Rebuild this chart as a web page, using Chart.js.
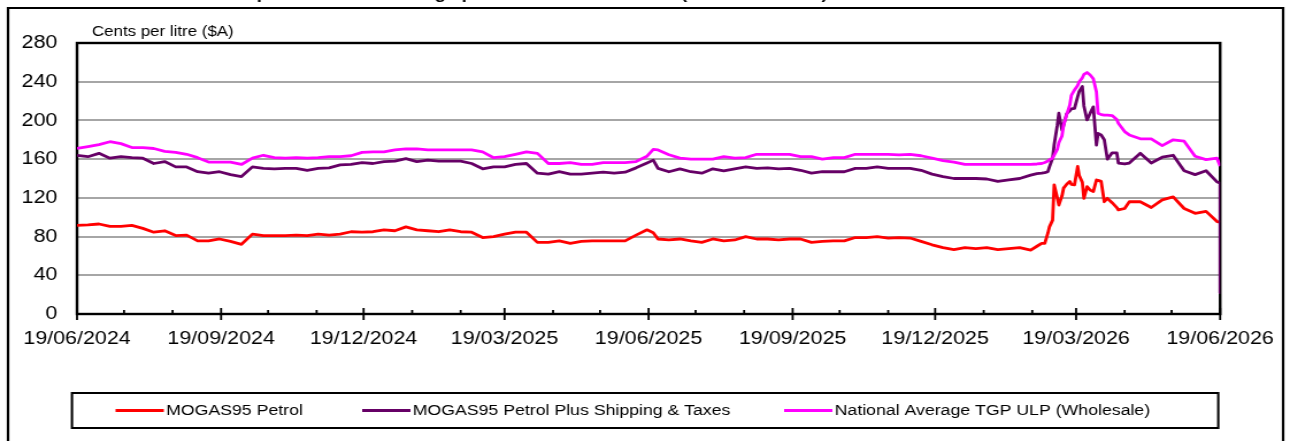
<!DOCTYPE html>
<html>
<head>
<meta charset="utf-8">
<script src="https://cdn.jsdelivr.net/npm/chart.js@4"></script>
<style>
  html, body { margin: 0; padding: 0; background: #fff; overflow: hidden; }
  /* the reference is drawn slightly wide, so the chart is stretched horizontally */
  #wrap { position: absolute; left: 0; top: 0; width: 1122px; height: 441px;
          transform: scaleX(1.14973); transform-origin: 0 0; }
</style>
</head>
<body>
<div id="wrap"><canvas id="myChart"></canvas></div>
<script>
const titleText = "Comparison of the average petrol versus MOGAS95 (AUD cents/litre)";
const unitText = "Cents per litre ($A)";

// days since 19/06/2024
const days = [0,7,14,21,28,35,42,49,56,63,70,77,84,91,98,105,112,119,126,133,140,147,154,161,168,175,182,
  189,196,203,210,217,224,231,238,245,252,259,266,273,280,287,294,301,308,315,322,329,336,343,350,357,364,
  368,
  371,378,385,392,399,406,413,420,427,434,441,448,455,462,469,476,483,490,497,504,511,518,525,532,539,546,
  553,560,567,574,581,588,595,
  602,609,613,616,618,620,621,623,624,626,627,629,630,632,634,635,637,639,640,642,643,645,647,649,651,652,654,656,658,661,664,665,669,672,
  679,686,693,700,707,714,721,728,730,730];

const mogas = [91.5,92,93,90.5,90.5,91.5,88.5,84.5,86,81,81.5,75.5,75.5,77.5,75,72,82.5,81,81,81,81.5,81,82.5,81.5,82.5,85,84.5,
  85,87,86,90,87,86,85,87,85,84.5,79,80,82.5,84.5,84.5,74,74,75.5,73,75,75.5,75.5,75.5,75.5,81.5,87,
  84,
  77.5,76.5,77.5,75.5,74,77.5,75.5,76.5,80,77.5,77.5,76.5,77.5,77.5,74,75,75.5,75.5,79,79,80,78.5,79,78.5,75,71.5,
  68.5,66.5,68.5,67.5,68.5,66.5,67.5,
  68.5,66,70,73,73,83.5,90,97,133.5,120,112.5,122,130,134,137,134,133.5,152.5,143,136,119.5,131.5,128,126.5,138.5,138,137,116,119.5,115,110,107.5,109,116,
  116,110,118,121,109,104,106,95.5,95,95];

const mogasPlus = [164,162.5,166,161,162.5,161.5,161,155.5,157.5,152,152,147,145.5,147,144,142,152,150.5,150,150.5,150.5,148.5,150.5,151,154,154.5,156.5,
  155.5,157.5,158,160.5,157.5,159,158,158,158,155.5,150,152,152,154.5,155.5,145.5,144.5,147,144.5,144.5,145.5,146.5,145.5,146.5,151,156,
  159,
  150.5,147,150,147,145.5,150,148,150,152,150.5,151,150,150.5,148.5,145.5,147,147,147,150.5,150.5,152,150.5,150.5,150.5,148.5,144.5,
  142,140,140,140,139.5,137,138.5,
  140,143.5,145,145.5,146,147,152,161,175,195,207.5,190,195,207,210,212,212.5,224.5,230,235,215,200.5,207.5,214,174.5,186.5,185,180,160,166.5,166.5,156,155,156,
  166,156,162,164,148,144,148,136.5,135,22];

const tgp = [171,173,175,178,176,172,172,171,168,167,165,161.5,157,157,157,154.5,161,164,161.5,161,161.5,161,161.5,162.5,162.5,163.5,167,
  167.5,167.5,169.5,170.5,170.5,169.5,169.5,169.5,169.5,169.5,167.5,161.5,162.5,165,167.5,166,155.5,155.5,156.5,154.5,154.5,156.5,156.5,156.5,157.5,163,
  170,
  169.5,164.5,161,160,160,160,162.5,161,161.5,165,165,165,165,162.5,162.5,160,161.5,161.5,165,165,165,165,164.5,165,163.5,161,
  158.5,157,154.5,154.5,154.5,154.5,154.5,
  154.5,154.5,155,155.5,156.5,158,159.5,161,164,170,177,184,195,206,216,226,231.5,236,240,244,247.5,249.5,247,243,229.5,207.5,206,205.5,205.5,205,201,197,188.5,185,
  181,181,174,180,178.5,163,159.5,161,153,153];

const quarterDays = [0,92,183,273,365,457,548,638,730];
const quarterLabels = ["19/06/2024","19/09/2024","19/12/2024","19/03/2025","19/06/2025","19/09/2025","19/12/2025","19/03/2026","19/06/2026"];
const monthDays = [30,61,122,153,214,245,304,334,395,426,487,518,579,610,669,699];

const fam = '"Liberation Sans", Arial, sans-serif';
const toPts = vals => days.map((d, i) => ({ x: d, y: vals[i] }));

// frame, title, ticks, plot border and the boxed legend
const extras = {
  id: "extras",
  beforeDraw(chart) {
    const ctx = chart.ctx;
    ctx.save();
    ctx.fillStyle = "#fff";
    ctx.fillRect(0, 0, chart.width, chart.height);
    ctx.strokeStyle = "#000";
    ctx.lineWidth = 2.2;
    ctx.beginPath();
    ctx.moveTo(7, chart.height + 5);
    ctx.lineTo(7, 8);
    ctx.lineTo(1116, 8);
    ctx.lineTo(1116, chart.height + 5);
    ctx.stroke();
    ctx.fillStyle = "#000";
    ctx.textBaseline = "alphabetic";
    // title sits above the top edge, only its descenders show
    ctx.font = "bold 16.3px " + fam;
    ctx.fillText(titleText, 187, -1);
    ctx.font = "14.7px " + fam;
    ctx.fillText(unitText, 80, 36);
    ctx.restore();
  },
  beforeDatasetsDraw(chart) {
    const ctx = chart.ctx, a = chart.chartArea, xs = chart.scales.x;
    ctx.save();
    ctx.strokeStyle = "#000";
    ctx.lineWidth = 2.4;
    ctx.strokeRect(a.left, a.top, a.right - a.left, a.bottom - a.top);
    ctx.lineWidth = 1.8;
    ctx.beginPath();
    quarterDays.forEach(d => {
      const px = xs.getPixelForValue(d);
      ctx.moveTo(px, a.bottom - 6);
      ctx.lineTo(px, a.bottom + 6);
    });
    monthDays.forEach(d => {
      const px = xs.getPixelForValue(d);
      ctx.moveTo(px, a.bottom - 4);
      ctx.lineTo(px, a.bottom);
    });
    ctx.stroke();
    ctx.restore();
  },
  afterDraw(chart) {
    const ctx = chart.ctx;
    const legendX = [100.5, 315, 682];
    ctx.save();
    ctx.strokeStyle = "#000";
    ctx.lineWidth = 2;
    ctx.strokeRect(62.6, 393, 997, 35);
    ctx.font = "15.4px " + fam;
    ctx.textBaseline = "middle";
    chart.data.datasets.forEach((ds, i) => {
      ctx.strokeStyle = ds.borderColor;
      ctx.lineWidth = 3;
      ctx.beginPath();
      ctx.moveTo(legendX[i], 410.5);
      ctx.lineTo(legendX[i] + 42, 410.5);
      ctx.stroke();
      ctx.fillStyle = "#000";
      ctx.fillText(ds.label, legendX[i] + 44, 411);
    });
    ctx.restore();
  }
};

new Chart(document.getElementById("myChart"), {
  type: "line",
  data: {
    datasets: [
      { label: "MOGAS95 Petrol", data: toPts(mogas), borderColor: "#ff0000", order: 3 },
      { label: "MOGAS95 Petrol Plus Shipping & Taxes", data: toPts(mogasPlus), borderColor: "#660066", order: 2 },
      { label: "National Average TGP ULP (Wholesale)", data: toPts(tgp), borderColor: "#ff00ff", order: 1 }
    ]
  },
  options: {
    responsive: true,
    maintainAspectRatio: false,
    animation: false,
    datasets: { line: { borderWidth: 2.8, pointRadius: 0, tension: 0, borderJoinStyle: "round" } },
    layout: { padding: { left: 0, right: 58.3, top: 43, bottom: 87 } },
    plugins: { legend: { display: false }, tooltip: { enabled: false } },
    scales: {
      x: {
        type: "linear", min: 0, max: 730,
        afterBuildTicks: s => { s.ticks = quarterDays.map(v => ({ value: v })); },
        afterFit: s => { s.height = 40; },
        grid: { display: false, drawTicks: false },
        border: { display: false },
        ticks: {
          autoSkip: false, maxRotation: 0, minRotation: 0, padding: 14, color: "#000",
          font: { family: fam, size: 18.7 },
          callback: (v, i) => quarterLabels[i]
        }
      },
      y: {
        min: 0, max: 280,
        afterFit: s => { s.width = 67; },
        grid: { color: "#a6a6a6", lineWidth: 2, drawTicks: false },
        border: { display: false },
        ticks: { stepSize: 40, padding: 17, color: "#000", font: { family: fam, size: 18.7 } }
      }
    }
  },
  plugins: [extras]
});
</script>
</body>
</html>
